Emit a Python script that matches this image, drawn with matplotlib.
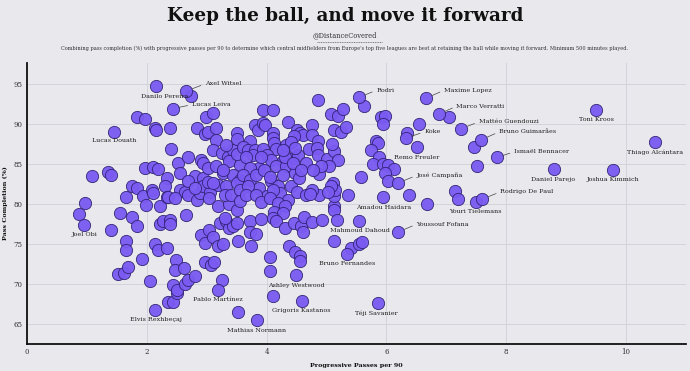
import matplotlib
matplotlib.use("Agg")
import matplotlib.pyplot as plt
from matplotlib.lines import Line2D

# ---------------- data ----------------
# unlabelled players, grouped by area of the chart
left_x = [0.87,0.97,1.09,1.36,1.41,1.40,1.55,1.52,1.62,1.68,1.65,1.65,1.65,1.75,1.83,1.76,1.84,1.84,1.97,1.92,
          1.94,1.98,1.97,2.10,2.19,2.08,2.10,2.13,2.19,2.06,2.13,2.16,2.22,2.22,2.27,2.38,2.38,2.33,2.31,2.33,
          2.36,2.33,2.38,2.41,2.43,2.36,2.43]
left_y = [78.75,80.1,83.5,84.0,83.6,76.75,78.8,71.3,71.4,72.1,75.4,74.2,80.9,82.25,82.0,78.4,77.2,90.9,90.6,73.1,
          81.0,79.9,84.5,84.6,84.4,81.7,81.3,75.0,74.3,70.4,89.5,89.2,79.7,77.5,77.9,78.0,77.5,83.2,82.2,80.9,
          80.8,74.5,89.5,86.8,69.9,67.8,67.7]

midleft_x = [2.48,2.47,2.51,2.50,2.52,2.55,2.55,2.63,2.69,2.62,
             2.63,2.69,2.66,2.69,2.80,2.68,2.80,2.83,2.83,2.88,
             2.91,2.94,2.94,2.94,2.91,2.98,3.04,3.11,2.97,3.08,
             3.13,2.99,3.11,2.98,3.02,3.15,3.16,3.02,3.05,3.04,
             3.02,3.11,3.15,3.19,3.19,3.19,3.27,3.22,3.32,3.37,
             3.44,3.50,3.52,3.26,3.25,3.36,3.44,3.33,3.38,3.50,
             3.30,3.38,3.55,3.28,3.44,3.55,3.50,3.50,3.52,3.11,
             3.50,3.27,3.33,3.50,2.80,3.30,3.41,3.55,2.47,3.55,2.73]
midleft_y = [73.0,71.7,68.9,69.3,85.1,83.9,81.75,81.5,81.1,72.0,
             70.0,70.5,78.6,85.8,83.5,82.9,71.0,89.5,80.5,81.3,
             85.5,85.1,83.2,82.2,76.1,75.1,76.7,75.9,72.7,72.4,
             72.8,90.8,91.3,88.75,89.0,89.5,88.0,84.5,81.5,80.7,
             82.7,86.75,84.7,82.4,79.7,74.75,75.0,77.6,77.9,77.0,
             77.25,77.6,75.3,70.5,86.3,85.9,86.75,82.2,80.0,79.25,
             78.2,85.3,84.9,83.8,83.6,83.0,88.8,88.1,66.5,82.6,
             82.6,84.2,87.4,86.25,82.0,81.1,81.1,81.75,80.7,80.4,93.5]

center_top_x = [3.94,4.11,3.80,3.86,3.94,3.98,4.10,4.11,4.13,4.36,
                4.50,4.55,4.60,4.45,4.33,4.15,3.72,3.61,3.69,3.80,
                3.77,3.66,3.94,4.00,4.08,4.27,4.44,4.52,3.88,3.72,
                4.16,4.33,4.47,3.61,3.72,3.82,3.88,4.08,4.19,4.27,
                4.41,4.54,3.69,4.00,4.22,3.91,4.30,4.44,3.96,4.05,
                3.66,3.83,4.11,4.36,4.50,4.41,4.27,4.47]
center_top_y = [91.7,91.7,89.9,89.25,90.1,89.8,88.9,88.2,87.6,90.2,
                89.25,88.9,88.6,88.5,87.4,86.8,87.8,87.1,86.7,86.75,
                86.1,85.9,86.8,86.1,85.5,85.3,85.7,86.1,84.5,84.5,
                84.7,84.7,83.8,83.6,83.0,83.6,82.0,82.8,82.25,83.6,
                82.2,83.2,82.2,81.0,81.3,85.9,85.9,85.1,84.25,83.4,
                81.1,81.1,81.75,80.5,81.5,87.7,86.75,87.0]

center_low_x = [3.91,4.05,4.19,4.13,4.30,4.27,4.66,4.88,5.13,5.13,
                5.36,3.72,3.91,3.72,3.82,4.11,4.16,4.30,4.45,4.58,
                4.61,4.63,4.75,4.93,5.18,3.74,4.38,4.48,4.55,4.55,
                5.13,5.41,5.54,5.60,4.05,4.05,4.11,5.13]
center_low_y = [80.2,80.7,80.1,79.0,79.7,78.8,81.1,81.1,79.7,79.25,
                81.1,77.8,78.1,76.5,76.2,78.2,77.8,77.0,77.6,77.2,
                76.5,78.4,77.7,78.0,78.0,74.8,74.7,74.0,73.5,72.9,
                75.4,74.5,75.0,75.2,73.4,71.6,68.5,81.0]

right_x = [4.86,5.08,5.19,5.28,5.91,5.97,5.94,4.76,4.75,5.13,
           5.25,5.33,4.71,4.86,4.84,4.86,5.00,5.13,5.19,5.04,
           4.88,4.66,5.83,5.86,5.75,5.88,5.77,5.95,6.02,6.12,
           5.97,6.02,5.58,5.11,5.15,5.08,4.75,4.72,5.10,4.91,
           4.77,4.57,5.02,6.38,6.67,6.34,6.54,5.63,
           7.05,7.46,7.52,7.15,7.50]
right_y = [93.0,91.2,91.0,91.9,90.9,91.0,90.0,89.9,88.6,89.25,
           89.0,89.6,86.9,87.8,87.0,86.1,85.6,86.6,85.5,84.7,
           83.7,85.1,87.9,87.6,86.75,85.9,85.0,85.0,84.9,84.4,
           83.8,82.8,83.4,82.6,81.75,82.2,81.75,81.2,87.5,84.7,
           84.25,84.25,81.5,81.1,80.0,88.8,90.0,92.2,
           90.8,87.1,84.7,81.6,80.25]

# labelled players
names = ["Axel Witsel","Danilo Pereira","Lucas Leiva","Lucas Douath","Joel Obi","Elvis Rexhbeçaj",
         "Pablo Martínez","Mathias Normann","Grigoris Kastanos","Ashley Westwood","Bruno Fernandes",
         "Mahmoud Dahoud","Amadou Haidara","Youssouf Fofana","Téji Savanier","Youri Tielemans",
         "Rodrigo De Paul","José Campaña","Remo Freuler","Koke","Rodri","Maxime Lopez","Marco Verratti",
         "Mattéo Guendouzi","Bruno Guimarães","Ismaël Bennacer","Daniel Parejo","Joshua Kimmich",
         "Toni Kroos","Thiago Alcántara"]
named_x = [2.66,2.15,2.43,1.46,0.96,2.14,3.19,3.84,4.59,4.49,5.34,5.55,5.95,6.20,5.86,7.20,7.60,6.19,
           6.51,6.32,5.54,6.66,6.88,7.25,7.58,7.84,8.80,9.79,9.50,10.48]
named_y = [94.1,94.7,91.9,89.0,77.4,66.8,69.2,65.5,67.9,71.1,73.8,77.9,80.8,76.5,67.6,80.6,80.6,82.6,
           87.1,88.2,93.3,93.2,91.25,89.4,88.0,85.8,84.3,84.25,91.7,87.7]

# label placement (text anchor in data units, alignment, leader line)
label_pos = {
    "Axel Witsel": (2.97, 95.0, "left", True),
    "Danilo Pereira": (2.30, 93.4, "center", False),
    "Lucas Leiva": (2.75, 92.4, "left", True),
    "Lucas Douath": (1.45, 87.9, "center", False),
    "Joel Obi": (0.96, 76.2, "center", False),
    "Elvis Rexhbeçaj": (2.15, 65.6, "center", False),
    "Pablo Martínez": (3.19, 68.0, "center", False),
    "Mathias Normann": (3.84, 64.2, "center", False),
    "Grigoris Kastanos": (4.58, 66.7, "center", False),
    "Ashley Westwood": (4.49, 69.8, "center", False),
    "Bruno Fernandes": (5.34, 72.6, "center", False),
    "Mahmoud Dahoud": (5.55, 76.7, "center", False),
    "Amadou Haidara": (5.95, 79.5, "center", False),
    "Youssouf Fofana": (6.50, 77.45, "left", True),
    "Téji Savanier": (5.84, 66.3, "center", False),
    "Youri Tielemans": (7.48, 79.1, "center", False),
    "Rodrigo De Paul": (7.90, 81.5, "left", True),
    "José Campaña": (6.50, 83.55, "left", True),
    "Remo Freuler": (6.50, 85.8, "center", False),
    "Koke": (6.63, 89.0, "left", True),
    "Rodri": (5.83, 94.2, "left", True),
    "Maxime Lopez": (6.96, 94.2, "left", True),
    "Marco Verratti": (7.17, 92.2, "left", True),
    "Mattéo Guendouzi": (7.54, 90.25, "left", True),
    "Bruno Guimarães": (7.88, 89.0, "left", True),
    "Ismaël Bennacer": (8.13, 86.5, "left", True),
    "Daniel Parejo": (8.79, 83.1, "center", False),
    "Joshua Kimmich": (9.79, 83.0, "center", False),
    "Toni Kroos": (9.50, 90.5, "center", False),
    "Thiago Alcántara": (10.48, 86.5, "center", False),
}

x_ticks = [0, 2, 4, 6, 8, 10]
y_ticks = [65, 70, 75, 80, 85, 90, 95]

title = "Keep the ball, and move it forward"
handle = "@DistanceCovered"
description = ("Combining pass completion (%) with progressive passes per 90 to determine which central "
               "midfielders from Europe's top five leagues are best at retaining the ball while moving it "
               "forward. Minimum 500 minutes played.")

# ---------------- style ----------------
BG = "#e8e8ed"
GRID = "#d3d3db"
FACE = "#7a5af2"
EDGE = "#2e2070"
SERIF = ["DejaVu Serif"]

plt.rcParams["font.family"] = SERIF

fig = plt.figure(figsize=(6.9, 3.71), dpi=100, facecolor=BG)
ax = fig.add_axes([0.0391, 0.073, 0.955, 0.757], facecolor=BG)

all_x = left_x + midleft_x + center_top_x + center_low_x + right_x + named_x
all_y = left_y + midleft_y + center_top_y + center_low_y + right_y + named_y
ax.scatter(all_x, all_y, s=78, c=FACE, edgecolors=EDGE, linewidths=0.6, alpha=0.95, zorder=3)

for n, px, py in zip(names, named_x, named_y):
    tx, ty, ha, leader = label_pos[n]
    if leader:
        ax.annotate(n, xy=(px, py), xytext=(tx, ty), ha=ha, va="center", fontsize=4.6,
                    color="#222222", zorder=4,
                    arrowprops=dict(arrowstyle="-", color="#444444", lw=0.5,
                                    shrinkA=1, shrinkB=4.5, relpos=(0, 0.5)))
    else:
        ax.text(tx, ty, n, ha=ha, va="center", fontsize=4.6, color="#222222", zorder=4)

ax.set_xlim(0, 11)
ax.set_ylim(62.5, 97.6)
ax.set_xticks(x_ticks)
ax.set_yticks(y_ticks)
ax.tick_params(length=0, labelsize=5, colors="#333333", pad=3)
ax.grid(True, color=GRID, lw=0.7, zorder=0)
ax.set_axisbelow(True)
for s in ["top", "right"]:
    ax.spines[s].set_visible(False)
for s in ["left", "bottom"]:
    ax.spines[s].set_color("#111111")
    ax.spines[s].set_linewidth(1.3)

ax.set_xlabel("Progressive Passes per 90", fontsize=4.6, fontweight="bold", color="#111111", labelpad=5)
ax.set_ylabel("Pass Completion (%)", fontsize=4.6, fontweight="bold", color="#111111", labelpad=4)

fig.text(0.5, 0.958, title, ha="center", va="center", fontsize=13.2, fontweight="bold", color="#111111")
fig.text(0.5, 0.906, handle, ha="center", va="center", fontsize=4.8, color="#333333")
fig.add_artist(Line2D([0.46, 0.553], [0.887, 0.887], transform=fig.transFigure,
                      color="#555555", lw=0.5, linestyle=(0, (1.5, 1))))
fig.text(0.5, 0.869, description, ha="center", va="center", fontsize=3.6, color="#333333")

fig.savefig("out.png", dpi=100, facecolor=BG)
